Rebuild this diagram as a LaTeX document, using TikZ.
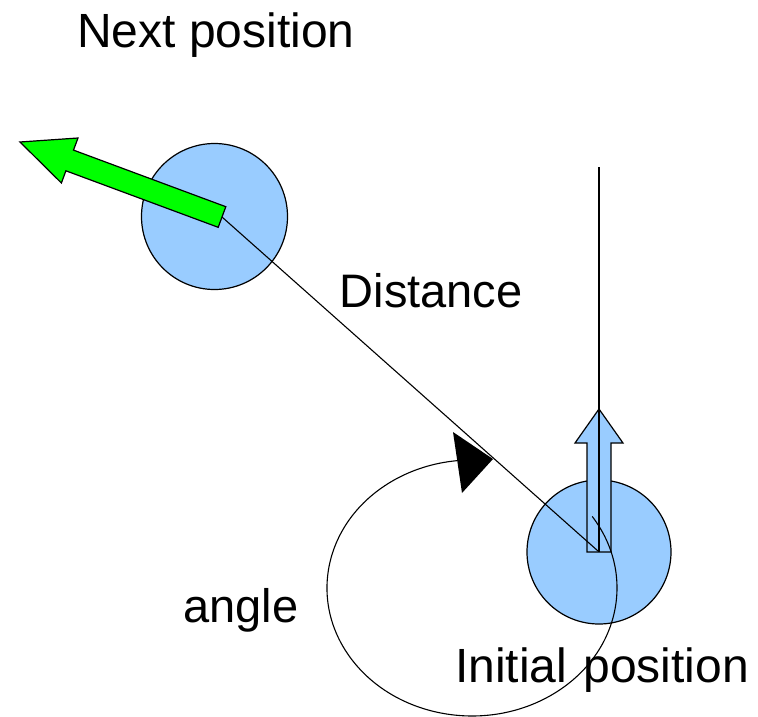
\documentclass[tikz,border=0pt]{standalone}
\usepackage{fontspec}
\setmainfont{Liberation Sans}
\definecolor{lightblue}{RGB}{153,204,255}
\definecolor{brightgreen}{RGB}{0,255,0}
\begin{document}
\begin{tikzpicture}[x=1pt,y=-1pt,
  lbl/.style={anchor=base west,inner sep=0pt,font=\fontsize{47}{56}\selectfont},
  biglbl/.style={lbl,font=\fontsize{48}{57}\selectfont},
  disc/.style={circle,draw=black,fill=lightblue,line width=1.2pt,inner sep=0pt},
  thin line/.style={draw=black,line width=1.1pt},
  arrowshape/.style={draw=black,line width=1.2pt,line join=miter}]
\useasboundingbox (0,0) rectangle (758,716);
% discs
\node[disc,minimum size=146pt] (upper) at (214.5,216.5) {};
\node[disc,minimum size=144pt] (lower) at (599,552) {};
% blue arrow
\filldraw[arrowshape,fill=lightblue] (587,552) -- (611,552) -- (611,443) -- (623,443)
  -- (599,409) -- (575,443) -- (587,443) -- cycle;
% key points
\coordinate (T) at (222,217);
\coordinate (L) at (598,551);
\coordinate (vtop) at (599,167);
\coordinate (vbot) at (599,552);
% lines
\draw[thin line] (T) -- (L);
\draw[thin line] (vtop) -- (vbot);
% angle arc
\draw[thin line] (592.2,516.4) arc[start angle=34, end angle=-264, x radius=145pt, y radius=128pt];
\fill[black] (453,432) -- (493,459) -- (462,493) -- cycle;
% green arrow
\filldraw[arrowshape,fill=brightgreen] (225.8,206.7) -- (73.5,150.1) -- (78.0,138.0)
  -- (20,142) -- (61.4,183.0) -- (65.9,170.8) -- (218.2,227.3) -- cycle;
% labels
\node[biglbl] (next) at (77,47) {Next position};
\node[lbl] (dist) at (339.5,307) {Distance};
\node[lbl] (ang) at (183,622) {angle};
\node[biglbl] (init) at (455,682) {Initial\hspace{3pt} position};
\end{tikzpicture}
\end{document}
